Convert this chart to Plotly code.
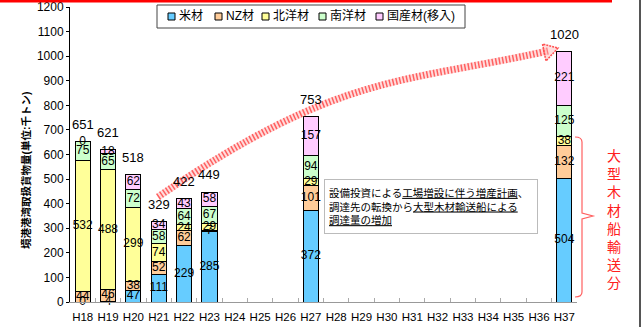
import plotly.graph_objects as go

categories = ["H18", "H19", "H20", "H21", "H22", "H23", "H24", "H25", "H26", "H27",
              "H28", "H29", "H30", "H31", "H32", "H33", "H34", "H35", "H36", "H37"]
beizai = [0, 4, 47, 111, 229, 285, None, None, None, 372, None, None, None, None, None, None, None, None, None, 504]
nz_zai = [44, 46, 38, 52, 62, 7, None, None, None, 101, None, None, None, None, None, None, None, None, None, 132]
hokuyo = [532, 488, 299, 74, 24, 29, None, None, None, 29, None, None, None, None, None, None, None, None, None, 38]
nanyo = [75, 65, 72, 58, 64, 67, None, None, None, 94, None, None, None, None, None, None, None, None, None, 125]
kokusan = [0, 18, 62, 34, 43, 58, None, None, None, 157, None, None, None, None, None, None, None, None, None, 221]
totals = [651, 621, 518, 329, 422, 449, None, None, None, 753, None, None, None, None, None, None, None, None, None, 1020]

series_names = ["米材", "NZ材", "北洋材", "南洋材", "国産材(移入)"]
series_values = [beizai, nz_zai, hokuyo, nanyo, kokusan]
colors = ["#66CCFF", "#FFCC99", "#FFFF99", "#CCFFCC", "#FFCCFF"]

FONT = "Liberation Sans, Noto Sans CJK JP, sans-serif"

# plot box in pixels
L, R, T, B = 70, 577, 7, 302
W, H = 643, 327


def px(x):
    return (x - L) / (R - L)


def py(y):
    return (B - y) / (B - T)


fig = go.Figure()

base = [0] * len(categories)
for name, vals, col in zip(series_names, series_values, colors):
    fig.add_trace(go.Bar(
        x=categories, y=vals, name=name,
        marker=dict(color=col, line=dict(color="black", width=1)),
        width=0.6, showlegend=False, hoverinfo="skip",
    ))
    mids, texts, xs = [], [], []
    for i, v in enumerate(vals):
        if v is None:
            continue
        xs.append(categories[i])
        mids.append(base[i] + v / 2)
        texts.append(str(v))
        base[i] += v
    fig.add_trace(go.Scatter(
        x=xs, y=mids, text=texts, mode="text",
        textfont=dict(size=12, color="black", family=FONT),
        cliponaxis=False, showlegend=False, hoverinfo="skip",
    ))

annotations = []
for c, t in zip(categories, totals):
    if t is None:
        continue
    annotations.append(dict(
        x=c, y=t, xref="x", yref="y", text=str(t), showarrow=False,
        yanchor="middle", yshift=17, font=dict(size=13, color="black", family=FONT),
    ))

# y-axis title
annotations.append(dict(
    x=px(26), y=py(170), xref="paper", yref="paper",
    text="<b>境港港湾取扱貨物量(単位:千トン)</b>", textangle=-90,
    showarrow=False, xanchor="center", yanchor="middle",
    font=dict(size=10.5, color="black", family=FONT),
))

# text box
annotations.append(dict(
    x=px(431), y=py(206.5), xref="paper", yref="paper",
    text=("設備投資による<u>工場増設に伴う増産計画</u>、<br>"
          "調達先の転換から<u>大型木材輸送船による</u><br>"
          "<u>調達量の増加</u>"),
    showarrow=False, align="left", xanchor="center", yanchor="middle",
    width=204, height=45, borderpad=4, bgcolor="white",
    bordercolor="#BBBBBB", borderwidth=1,
    font=dict(size=10.5, color="black", family=FONT),
))

# vertical red text
annotations.append(dict(
    x=px(614), y=py(220), xref="paper", yref="paper",
    text="<br>".join(list("大型木材船輸送分")),
    showarrow=False, xanchor="center", yanchor="middle",
    font=dict(size=14, color="#FF2020", family=FONT),
))

shapes = []
# legend box
shapes.append(dict(type="rect", xref="paper", yref="paper",
                   x0=px(157), x1=px(465), y0=py(28), y1=py(5),
                   line=dict(color="#444444", width=1), fillcolor="white", layer="above"))
legend_x = [168, 215, 262, 319, 376]
for lx, name, col in zip(legend_x, series_names, colors):
    shapes.append(dict(type="rect", xref="paper", yref="paper",
                       x0=px(lx), x1=px(lx + 7), y0=py(20), y1=py(13),
                       line=dict(color="black", width=1), fillcolor=col, layer="above"))
    annotations.append(dict(x=px(lx + 9), y=py(16), xref="paper", yref="paper",
                            text=name, showarrow=False, xanchor="left", yanchor="middle",
                            font=dict(size=12, color="black", family=FONT)))

# red top line and right border
shapes.append(dict(type="line", xref="paper", yref="paper",
                   x0=px(0), x1=px(612), y0=py(1), y1=py(1),
                   line=dict(color="#FF0000", width=3)))
shapes.append(dict(type="line", xref="paper", yref="paper",
                   x0=px(640), x1=px(640), y0=py(0), y1=py(327),
                   line=dict(color="#555555", width=2)))

# curved arrow
p0, c1, c2, p2 = (158, 197), (338, 73), (403, 83), (548, 51)
path = "M {},{} C {},{} {},{} {},{}".format(
    px(p0[0]), py(p0[1]), px(c1[0]), py(c1[1]), px(c2[0]), py(c2[1]), px(p2[0]), py(p2[1]))
shapes.append(dict(type="path", xref="paper", yref="paper", path=path,
                   line=dict(color="rgba(255,140,140,0.3)", width=7)))
shapes.append(dict(type="path", xref="paper", yref="paper", path=path,
                   line=dict(color="#FF6060", width=7, dash="1.5px,2px")))
tip, b1, b2 = (558, 48), (546, 61), (542.5, 44)
tri = "M {},{} L {},{} L {},{} Z".format(px(tip[0]), py(tip[1]), px(b1[0]), py(b1[1]), px(b2[0]), py(b2[1]))
shapes.append(dict(type="path", xref="paper", yref="paper", path=tri,
                   line=dict(color="#FF5050", width=1.5, dash="2px,1px"),
                   fillcolor="rgba(255,170,170,0.4)"))

# brace
brace = "M {},{} Q {},{} {},{} L {},{} L {},{} L {},{} L {},{} Q {},{} {},{}".format(
    px(575), py(137), px(582), py(137), px(582), py(142),
    px(582), py(213), px(593), py(216), px(582), py(219), px(582), py(292),
    px(582), py(297), px(575), py(297))
shapes.append(dict(type="path", xref="paper", yref="paper", path=brace,
                   line=dict(color="#FF6060", width=1.2)))

fig.update_layout(
    template="none",
    width=W, height=H,
    margin=dict(l=L, r=W - R, t=T, b=H - B, autoexpand=False),
    barmode="stack",
    plot_bgcolor="white", paper_bgcolor="white",
    showlegend=False,
    font=dict(family=FONT, color="black"),
    annotations=annotations, shapes=shapes,
    xaxis=dict(
        type="category", categoryorder="array", categoryarray=categories,
        range=[-0.5, len(categories) - 0.5], automargin=False,
        showline=True, linecolor="#999999", linewidth=1,
        ticks="inside", tickson="boundaries", ticklen=4, tickcolor="#AAAAAA",
        tickangle=0,
        tickfont=dict(size=11.5, color="black", family=FONT),
        ticklabelstandoff=4, showgrid=False, zeroline=False,
    ),
    yaxis=dict(
        range=[0, 1200], dtick=100, tick0=0, automargin=False,
        showline=True, linecolor="black", linewidth=1,
        ticks="outside", ticklen=3, tickcolor="black",
        tickfont=dict(size=12, color="black", family=FONT),
        showgrid=False, zeroline=False,
    ),
)

fig.write_html("out.html")
